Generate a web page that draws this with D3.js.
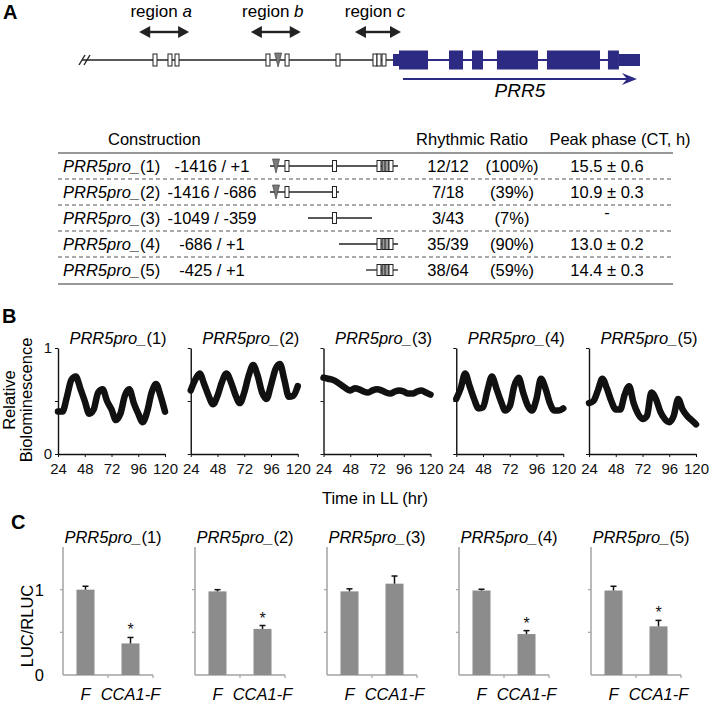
<!DOCTYPE html>
<html><head><meta charset="utf-8">
<script src="https://cdn.jsdelivr.net/npm/d3@7"></script>
<style>body{margin:0;background:#fff}svg{display:block;font-family:"Liberation Sans",Arial,sans-serif}</style>
</head><body><svg id="c" width="711" height="704"></svg>
<script>
// ---------------- DATA ----------------
// Panel A: gene map (bp relative to TSS)
const geneStart = -3676;
const geneEnd = 2920;
const regionNames = ["a", "b", "c"];
const regionSpans = [[-3000, -2410], [-1680, -1090], [-450, 95]];
const mapBoxes = [-2813, -2636, -2553, -1478, -1252, -650, -213, -165, -106];
const mapTriangle = -1358;
const exons = [[71, 414], [662, 828], [934, 1064], [1229, 1714], [1820, 2447], [2541, 2671]];
const utrs = [[0, 71], [2671, 2920]];
const transcriptArrow = [118, 2884];
const geneName = "PRR5";

// Table
const constructNames = ["(1)", "(2)", "(3)", "(4)", "(5)"];
const constructStart = [-1416, -1416, -1049, -686, -425];
const constructEnd = [1, -686, -359, 1, 1];
const rhythmicCounts = ["12/12", "7/18", "3/43", "35/39", "38/64"];
const rhythmicPct = ["(100%)", "(39%)", "(7%)", "(90%)", "(59%)"];
const peakPhase = ["15.5 \u00b1 0.6", "10.9 \u00b1 0.3", "-", "13.0 \u00b1 0.2", "14.4 \u00b1 0.3"];
const tableTriangle = -1358;
const tableBoxes = [{bp: -1252, gray: false}, {bp: -739, gray: false}, {bp: -262, gray: false}, {bp: -193, gray: true}, {bp: -151, gray: true}, {bp: -96, gray: false}];
const tableScaleKnots = [-1416, -1049, -686, -425, -359, 1];

// Panel B: relative bioluminescence in LL
const timesLL = [24, 28, 32, 36, 40, 44, 48, 52, 56, 60, 64, 68, 72, 76, 80, 84, 88, 92, 96, 100, 104, 108, 112, 116, 120];
const biolum1 = [0.40, 0.40, 0.54, 0.70, 0.73, 0.62, 0.50, 0.38, 0.42, 0.58, 0.61, 0.50, 0.42, 0.32, 0.38, 0.55, 0.61, 0.48, 0.38, 0.30, 0.40, 0.58, 0.66, 0.55, 0.40];
const biolum2 = [0.60, 0.70, 0.76, 0.66, 0.55, 0.47, 0.55, 0.68, 0.76, 0.68, 0.56, 0.48, 0.58, 0.74, 0.84, 0.74, 0.58, 0.52, 0.65, 0.80, 0.85, 0.70, 0.54, 0.55, 0.64];
const biolum3 = [0.72, 0.71, 0.70, 0.68, 0.65, 0.62, 0.60, 0.62, 0.61, 0.59, 0.58, 0.60, 0.61, 0.60, 0.58, 0.57, 0.59, 0.60, 0.59, 0.57, 0.57, 0.59, 0.60, 0.58, 0.56];
const biolum4 = [0.52, 0.62, 0.76, 0.64, 0.52, 0.43, 0.44, 0.60, 0.73, 0.62, 0.50, 0.41, 0.45, 0.64, 0.72, 0.58, 0.46, 0.41, 0.52, 0.71, 0.62, 0.48, 0.41, 0.41, 0.43];
const biolum5 = [0.48, 0.50, 0.60, 0.71, 0.62, 0.50, 0.42, 0.42, 0.56, 0.64, 0.48, 0.38, 0.33, 0.36, 0.58, 0.52, 0.40, 0.33, 0.30, 0.36, 0.52, 0.42, 0.36, 0.32, 0.28];
const biolumSeries = [biolum1, biolum2, biolum3, biolum4, biolum5];
const xTicksLL = [24, 48, 72, 96, 120];

// Panel C: LUC/RLUC
const effectors = ["F", "CCA1-F"];
const lucF = [1.00, 0.98, 0.98, 0.99, 0.99];
const lucFerr = [0.04, 0.02, 0.03, 0.015, 0.05];
const lucCCA1 = [0.37, 0.54, 1.07, 0.48, 0.57];
const lucCCA1err = [0.07, 0.04, 0.09, 0.04, 0.07];
const signif = [true, true, false, true, true];

// ---------------- DRAW ----------------
const svg = d3.select("#c");
const BLUE = "#2d2a84";

function panelLabel(t, x, y) {
  svg.append("text").attr("x", x).attr("y", y).attr("font-weight", "bold").attr("font-size", 20).text(t);
}
function prrText(g, x, y, suffix, size, anchor) {
  const t = g.append("text").attr("x", x).attr("y", y).attr("font-size", size).attr("text-anchor", anchor);
  t.append("tspan").attr("font-style", "italic").text("PRR5pro_");
  t.append("tspan").text(suffix);
  return t;
}
panelLabel("A", 3, 19);
panelLabel("B", 2, 323);
panelLabel("C", 11, 529);

// ---- Panel A gene map ----
const xA = d3.scaleLinear([geneStart, geneEnd], [82, 640]);
const gA = svg.append("g");
const yG = 60;
gA.append("line").attr("x1", xA(geneStart)).attr("x2", xA(0)).attr("y1", yG).attr("y2", yG).attr("stroke", "#222").attr("stroke-width", 1.3);
[0, 5].forEach(o => gA.append("line").attr("x1", xA(geneStart) + o - 3).attr("y1", yG + 5).attr("x2", xA(geneStart) + o + 3).attr("y2", yG - 5).attr("stroke", "#222").attr("stroke-width", 1.4));
gA.append("line").attr("x1", xA(0)).attr("x2", xA(geneEnd)).attr("y1", yG).attr("y2", yG).attr("stroke", BLUE).attr("stroke-width", 2);
gA.selectAll("rect.utr").data(utrs).join("rect").attr("x", d => xA(d[0])).attr("width", d => xA(d[1]) - xA(d[0])).attr("y", yG - 6).attr("height", 12).attr("fill", BLUE);
gA.selectAll("rect.ex").data(exons).join("rect").attr("x", d => xA(d[0])).attr("width", d => xA(d[1]) - xA(d[0])).attr("y", yG - 9.5).attr("height", 19).attr("fill", BLUE);
gA.selectAll("rect.box").data(mapBoxes).join("rect").attr("x", d => xA(d) - 2).attr("width", 4).attr("y", yG - 6).attr("height", 12).attr("fill", "#fff").attr("stroke", "#222").attr("stroke-width", 1);
{
  const tx = xA(mapTriangle);
  gA.append("path").attr("d", `M${tx - 3.5},${yG - 7}L${tx + 3.5},${yG - 7}L${tx},${yG + 7}Z`).attr("fill", "#7a7a7a").attr("stroke", "#444").attr("stroke-width", 0.7);
}
// region arrows
regionSpans.forEach((s, i) => {
  const x1 = xA(s[0]), x2 = xA(s[1]), y = 32, h = 11, w = 6;
  gA.append("line").attr("x1", x1 + h - 1).attr("x2", x2 - h + 1).attr("y1", y).attr("y2", y).attr("stroke", "#222").attr("stroke-width", 2.4);
  gA.append("path").attr("d", `M${x1},${y}L${x1 + h},${y - w}L${x1 + h},${y + w}Z`).attr("fill", "#222");
  gA.append("path").attr("d", `M${x2},${y}L${x2 - h},${y - w}L${x2 - h},${y + w}Z`).attr("fill", "#222");
  const t = gA.append("text").attr("x", (x1 + x2) / 2 - 3).attr("y", 17).attr("text-anchor", "middle").attr("font-size", 17);
  t.append("tspan").text("region ");
  t.append("tspan").attr("font-style", "italic").text(regionNames[i]);
});
// transcript arrow
{
  const x1 = xA(transcriptArrow[0]), x2 = xA(transcriptArrow[1]), y = 79;
  gA.append("line").attr("x1", x1).attr("x2", x2 - 8).attr("y1", y).attr("y2", y).attr("stroke", BLUE).attr("stroke-width", 2);
  gA.append("path").attr("d", `M${x2},${y}L${x2 - 15},${y - 6}L${x2 - 10},${y}L${x2 - 15},${y + 6}Z`).attr("fill", BLUE);
  gA.append("text").attr("x", xA(1500)).attr("y", 97).attr("text-anchor", "middle").attr("font-size", 19).attr("font-style", "italic").text(geneName);
}

// ---- Table ----
const gT = svg.append("g").attr("font-size", 16.5);
const rowY = i => 166 + i * 26;
const xT = d3.scaleLinear(tableScaleKnots, [270, 308, 339, 366, 372, 398]);
gT.append("text").attr("x", 108).attr("y", 145).text("Construction");
gT.append("text").attr("x", 472).attr("y", 145).attr("text-anchor", "middle").text("Rhythmic Ratio");
gT.append("text").attr("x", 620).attr("y", 145).attr("text-anchor", "middle").text("Peak phase (CT, h)");
gT.append("line").attr("x1", 58).attr("x2", 673).attr("y1", 153).attr("y2", 153).attr("stroke", "#333").attr("stroke-width", 1.2);
gT.append("line").attr("x1", 58).attr("x2", 673).attr("y1", 284).attr("y2", 284).attr("stroke", "#333").attr("stroke-width", 1.2);
for (let i = 0; i < 4; i++) {
  gT.append("line").attr("x1", 58).attr("x2", 673).attr("y1", rowY(i) + 13).attr("y2", rowY(i) + 13).attr("stroke", "#444").attr("stroke-width", 0.9).attr("stroke-dasharray", "4,3");
}
constructNames.forEach((n, i) => {
  const y = rowY(i);
  prrText(gT, 63, y + 6, n, 16.5, "start");
  gT.append("text").attr("x", 212).attr("y", y + 6).attr("text-anchor", "middle").text(`${constructStart[i]} / ${constructEnd[i] > 0 ? "+" + constructEnd[i] : constructEnd[i]}`);
  gT.append("text").attr("x", 448).attr("y", y + 6).attr("text-anchor", "middle").text(rhythmicCounts[i]);
  gT.append("text").attr("x", 512).attr("y", y + 6).attr("text-anchor", "middle").text(rhythmicPct[i]);
  gT.append("text").attr("x", 607).attr("y", peakPhase[i] === "-" ? y : y + 6).attr("text-anchor", "middle").text(peakPhase[i]);
  const s = constructStart[i], e = constructEnd[i];
  gT.append("line").attr("x1", xT(s)).attr("x2", xT(e)).attr("y1", y).attr("y2", y).attr("stroke", "#222").attr("stroke-width", 1.3);
  if (tableTriangle >= s && tableTriangle <= e) {
    const tx = xT(tableTriangle);
    gT.append("path").attr("d", `M${tx - 3.5},${y - 7}L${tx + 3.5},${y - 7}L${tx},${y + 7}Z`).attr("fill", "#7a7a7a").attr("stroke", "#444").attr("stroke-width", 0.7);
  }
  tableBoxes.filter(b => b.bp >= s && b.bp <= e).forEach(b => {
    gT.append("rect").attr("x", xT(b.bp) - 2).attr("width", 4).attr("y", y - 5.5).attr("height", 11).attr("fill", b.gray ? "#999" : "#fff").attr("stroke", "#222").attr("stroke-width", 1);
  });
});

// ---- Panel B ----
const bW = 107, bH = 106, bTop = 348;
const xB = d3.scaleLinear([24, 120], [0, bW]);
const yB = d3.scaleLinear([0, 1], [bH, 0]);
const lineB = d3.line().x((d, j) => xB(timesLL[j])).y(d => yB(d)).curve(d3.curveMonotoneX);
biolumSeries.forEach((s, i) => {
  const g = svg.append("g").attr("transform", `translate(${58 + i * 132.75},${bTop})`);
  const ya = d3.axisLeft(yB).tickValues([0, 0.5, 1]).tickSize(3).tickSizeOuter(0).tickFormat(d => (i === 0 && d !== 0.5) ? d3.format("d")(d) : "");
  const ga = g.append("g").call(ya);
  const xa = d3.axisBottom(xB).tickValues(xTicksLL).tickSize(3).tickSizeOuter(0);
  const gx = g.append("g").attr("transform", `translate(0,${bH})`).call(xa);
  [ga, gx].forEach(a => {
    a.select(".domain").attr("stroke", "#111").attr("stroke-width", 1.4);
    a.selectAll(".tick line").attr("stroke", "#111");
    a.selectAll("text").attr("font-size", 15).attr("fill", "#111").attr("font-family", '"Liberation Sans", Arial, sans-serif');
  });
  gx.selectAll("text").attr("dy", "0.95em");
  g.append("path").attr("d", lineB(s)).attr("fill", "none").attr("stroke", "#111").attr("stroke-width", 6.5).attr("stroke-linejoin", "round").attr("stroke-linecap", "round");
  prrText(g, 60, -4, constructNames[i], 16.5, "middle");
});
svg.append("text").attr("transform", "translate(15,400) rotate(-90)").attr("text-anchor", "middle").attr("font-size", 16.5).text("Relative");
svg.append("text").attr("transform", "translate(32,400) rotate(-90)").attr("text-anchor", "middle").attr("font-size", 16.5).text("Biolominescence");
svg.append("text").attr("x", 375).attr("y", 504).attr("text-anchor", "middle").attr("font-size", 16.5).text("Time in LL (hr)");

// ---- Panel C ----
const cW = 90, cH = 128, cTop = 547;
const xC = d3.scaleBand(effectors, [0, cW]).paddingInner(0.6).paddingOuter(0.3);
const yC = d3.scaleLinear([0, 1.5], [cH, 0]);
const GRAY = "#a3a3a3";
lucF.forEach((fv, i) => {
  const g = svg.append("g").attr("transform", `translate(${63 + i * 132},${cTop})`);
  const vals = [{k: "F", v: fv, e: lucFerr[i]}, {k: "CCA1-F", v: lucCCA1[i], e: lucCCA1err[i]}];
  g.append("line").attr("x1", 0).attr("x2", 0).attr("y1", 0).attr("y2", cH).attr("stroke", GRAY).attr("stroke-width", 1.5);
  g.append("line").attr("x1", 0).attr("x2", cW).attr("y1", cH).attr("y2", cH).attr("stroke", GRAY).attr("stroke-width", 1.5);
  [0.5, 1].forEach(t => g.append("line").attr("x1", -3).attr("x2", 0).attr("y1", yC(t)).attr("y2", yC(t)).attr("stroke", GRAY).attr("stroke-width", 1.2));
  [cW / 2, cW].forEach(t => g.append("line").attr("x1", t).attr("x2", t).attr("y1", cH).attr("y2", cH + 3).attr("stroke", GRAY).attr("stroke-width", 1.2));
  if (i === 0) {
    [0, 1].forEach(t => g.append("text").attr("x", -19).attr("y", yC(t) + 6).attr("text-anchor", "end").attr("font-size", 16.5).text(t));
  }
  g.selectAll("rect").data(vals).join("rect").attr("x", d => xC(d.k)).attr("width", xC.bandwidth()).attr("y", d => yC(d.v)).attr("height", d => cH - yC(d.v)).attr("fill", "#8c8c8c");
  vals.forEach(d => {
    const cx = xC(d.k) + xC.bandwidth() / 2;
    g.append("line").attr("x1", cx).attr("x2", cx).attr("y1", yC(d.v)).attr("y2", yC(d.v + d.e)).attr("stroke", "#111").attr("stroke-width", 1.5);
    g.append("line").attr("x1", cx - 3).attr("x2", cx + 3).attr("y1", yC(d.v + d.e)).attr("y2", yC(d.v + d.e)).attr("stroke", "#111").attr("stroke-width", 1.5);
    g.append("text").attr("x", cx).attr("y", 153).attr("text-anchor", "middle").attr("font-size", 16.5).attr("font-style", "italic").text(d.k);
  });
  if (signif[i]) {
    const d = vals[1];
    g.append("text").attr("x", xC(d.k) + xC.bandwidth() / 2).attr("y", yC(d.v + d.e) - 2).attr("text-anchor", "middle").attr("font-size", 16).attr("fill", "#111").text("*");
  }
  prrText(g, 50, -4, constructNames[i], 16.5, "middle");
});
svg.append("text").attr("transform", "translate(33,626) rotate(-90)").attr("text-anchor", "middle").attr("font-size", 16.5).text("LUC/RLUC");
</script></body></html>
